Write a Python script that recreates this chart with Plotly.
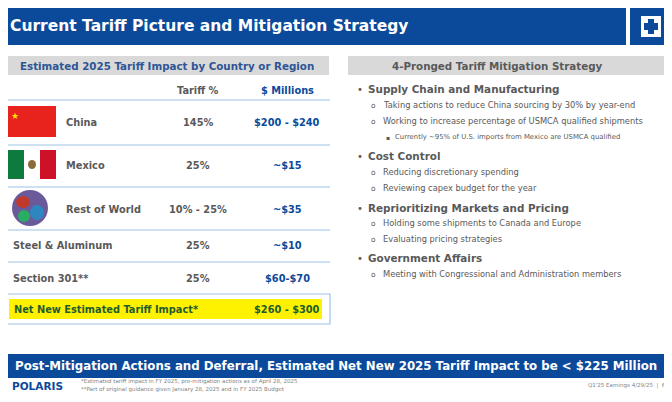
import plotly.graph_objects as go

BLUE = '#0B4A9B'
GREY_TXT = '#595959'

# left table data
row_labels = ['China', 'Mexico', 'Rest of World', 'Steel & Aluminum', 'Section 301**']
tariff_pct = ['145%', '25%', '10% - 25%', '25%', '25%']
millions = ['$200 - $240', '~$15', '~$35', '~$10', '$60-$70']
row_y = [122, 165, 209, 245, 278]
total_label = 'Net New Estimated Tariff Impact*'
total_value = '$260 - $300'

# right side strategy list
headings = ['Supply Chain and Manufacturing', 'Cost Control',
            'Reprioritizing Markets and Pricing', 'Government Affairs']
heading_y = [89, 156, 208, 258]
sub_items = [
    ('Taking actions to reduce China sourcing by 30% by year-end', 105, 1),
    ('Working to increase percentage of USMCA qualified shipments', 121, 1),
    ('Currently ~95% of U.S. imports from Mexico are USMCA qualified', 137, 2),
    ('Reducing discretionary spending', 172, 1),
    ('Reviewing capex budget for the year', 188, 1),
    ('Holding some shipments to Canada and Europe', 223, 1),
    ('Evaluating pricing strategies', 239, 1),
    ('Meeting with Congressional and Administration members', 274, 1),
]

fig = go.Figure()
shapes = []
ann = []


def rect(x0, y0, x1, y1, fill, line=None, lw=0, kind='rect'):
    shapes.append(dict(type=kind, xref='x', yref='y', x0=x0, y0=y0, x1=x1, y1=y1,
                       fillcolor=fill, line=dict(color=line or fill, width=lw), layer='below'))


def text(x, y, s, size, color, bold=False, anchor='left'):
    ann.append(dict(x=x, y=y, xref='x', yref='y', text=f'<b>{s}</b>' if bold else s,
                    showarrow=False, xanchor=anchor, yanchor='middle',
                    font=dict(family='DejaVu Sans', size=size, color=color)))


# title bar + logo box
rect(-10, 8, 626, 45, BLUE)
rect(630, 8, 690, 45, BLUE)
rect(641, 16, 661, 37, 'white')
rect(648, 19, 654, 34, BLUE)
rect(644, 23, 658, 30, BLUE)
text(8, 26, 'Current Tariff Picture and Mitigation Strategy', 15.5, 'white', True)

# left table
rect(6, 56, 329, 75, '#D9D9D9')
text(167, 66, 'Estimated 2025 Tariff Impact by Country or Region', 10.3, '#2E5596', True, 'center')
text(198, 90, 'Tariff %', 9.8, GREY_TXT, True, 'center')
text(287, 90, '$ Millions', 9.8, BLUE, True, 'center')
for ly in [100, 145, 187, 230, 262]:
    shapes.append(dict(type='line', xref='x', yref='y', x0=6, x1=330, y0=ly, y1=ly,
                       line=dict(color='#9DC3E6', width=1.2)))
for i, lab in enumerate(row_labels):
    x_lab = 64 if i < 3 else 11
    text(x_lab, row_y[i], lab, 9.8, GREY_TXT, True)
    text(198, row_y[i], tariff_pct[i], 9.8, GREY_TXT, True, 'center')
    text(287, row_y[i], millions[i], 9.8, BLUE, True, 'center')

# flags
rect(8, 106, 56, 137, '#E8231E')
text(15, 116, '★', 9, '#FFDE00', False, 'center')
rect(8, 150, 24, 179, '#0E7A3E')
rect(24, 150, 40, 179, 'white')
rect(40, 150, 56, 179, '#CE1126')
rect(28, 160, 36, 169, '#8B6B3A', kind='circle')
rect(12, 190, 48, 226, '#6A5A9A', kind='circle')
rect(16, 196, 30, 208, '#C0392B', kind='circle')
rect(30, 205, 44, 220, '#2E86C1', kind='circle')
rect(18, 210, 30, 222, '#27AE60', kind='circle')

# total row
rect(6, 294, 330, 324, 'white', '#9DC3E6', 1.2)
rect(9, 299, 322, 319, '#FFF200')
text(12, 309, total_label, 9.8, '#1F5C2E', True)
text(287, 309, total_value, 9.8, '#1F5C2E', True, 'center')

# right side
rect(348, 56, 667, 75, '#D9D9D9')
text(497, 66, '4-Pronged Tariff Mitigation Strategy', 10.3, GREY_TXT, True, 'center')
for h, hy in zip(headings, heading_y):
    text(355, hy, '•', 10, GREY_TXT)
    text(366, hy, h, 10.4, GREY_TXT, True)
for s, sy, lvl in sub_items:
    if lvl == 1:
        text(369, sy, 'o', 7.5, GREY_TXT)
        text(381, sy, s, 8.3, GREY_TXT)
    else:
        text(384, sy, '▪', 6, GREY_TXT)
        text(393, sy, s, 6.9, GREY_TXT)

# bottom banner and footer
rect(-10, 354, 690, 378, BLUE)
text(336, 366, 'Post-Mitigation Actions and Deferral, Estimated Net New 2025 Tariff Impact to be < $225 Million',
     11.8, 'white', True, 'center')
text(10, 386, 'POLARIS', 10.5, BLUE, True)
text(79, 381, '*Estimated tariff impact in FY 2025, pre-mitigation actions as of April 28, 2025', 5.5, '#7F7F7F')
text(79, 389, '**Part of original guidance given January 28, 2025 and in FY 2025 Budget', 5.5, '#7F7F7F')
text(668, 385, "Q1'25 Earnings 4/29/25  |  6", 5.5, '#7F7F7F', False, 'right')

fig.update_layout(
    width=672, height=402,
    margin=dict(l=0, r=0, t=0, b=0),
    paper_bgcolor='white', plot_bgcolor='white',
    showlegend=False,
    # page renders with an 8px offset, so shift the visible window to compensate
    xaxis=dict(range=[8, 680], visible=False, fixedrange=True),
    yaxis=dict(range=[410, 8], visible=False, fixedrange=True),
    shapes=shapes, annotations=ann,
)

fig.write_html('out.html')
